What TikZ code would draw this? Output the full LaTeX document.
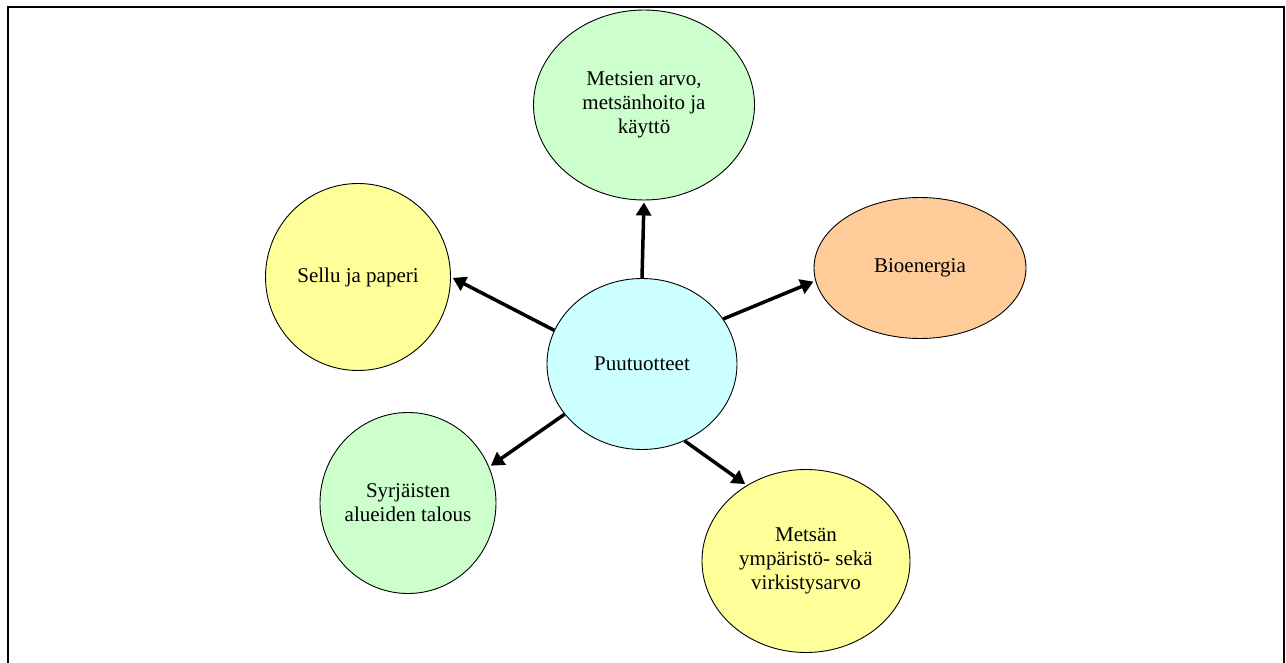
\documentclass[tikz,border=0pt]{standalone}
\usepackage{fontspec}
\setmainfont{Liberation Serif}
\usetikzlibrary{shapes.geometric, arrows.meta}

\definecolor{mintgreen}{HTML}{CCFFCC}
\definecolor{paleyellow}{HTML}{FFFF99}
\definecolor{peach}{HTML}{FFCC99}
\definecolor{palecyan}{HTML}{CCFFFF}

\begin{document}
\begin{tikzpicture}[x=1pt,y=-1pt,
    bubble/.style={ellipse, draw=black, line width=0.9pt, inner sep=0pt, align=center,
      font=\fontsize{21}{24}\selectfont},
    link/.style={line width=3.5pt, -{Triangle[length=13pt,width=15pt]}, shorten >=2pt}]
  \useasboundingbox (0,0) rectangle (1286,663);
  \draw[line width=2pt] (8,663) -- (8,7) -- (1284,7) -- (1284,663);

  \node[bubble, fill=palecyan, minimum width=190pt, minimum height=171pt] (prod) at (642,364) {Puutuotteet};
  \node[bubble, fill=mintgreen, minimum width=221pt, minimum height=190pt] (forest) at (644,105) {Metsien arvo,\\ metsänhoito ja\\ käyttö};
  \node[bubble, fill=paleyellow, minimum width=185pt, minimum height=187pt] (pulp) at (358,277) {Sellu ja paperi};
  \node[bubble, fill=peach, minimum width=212pt, minimum height=141pt] (bio) at (920,268) {Bioenergia};
  \node[bubble, fill=mintgreen, inner sep=-4pt, minimum width=176pt, minimum height=181pt] (rural) at (408,503) {Syrjäisten\\ alueiden talous};
  \node[bubble, fill=paleyellow, minimum width=208pt, minimum height=183pt] (env) at (806,561) {Metsän\\ ympäristö- sekä\\ virkistysarvo};

  \draw[link] (prod.north) -- (forest.south);
  \draw[link] (prod.159) -- (pulp.0);
  \draw[link] (prod.29) -- (bio.187);
  \draw[link] (prod.213) -- (rural.24);
  \draw[link] (prod.299) -- (env.128);
\end{tikzpicture}
\end{document}
